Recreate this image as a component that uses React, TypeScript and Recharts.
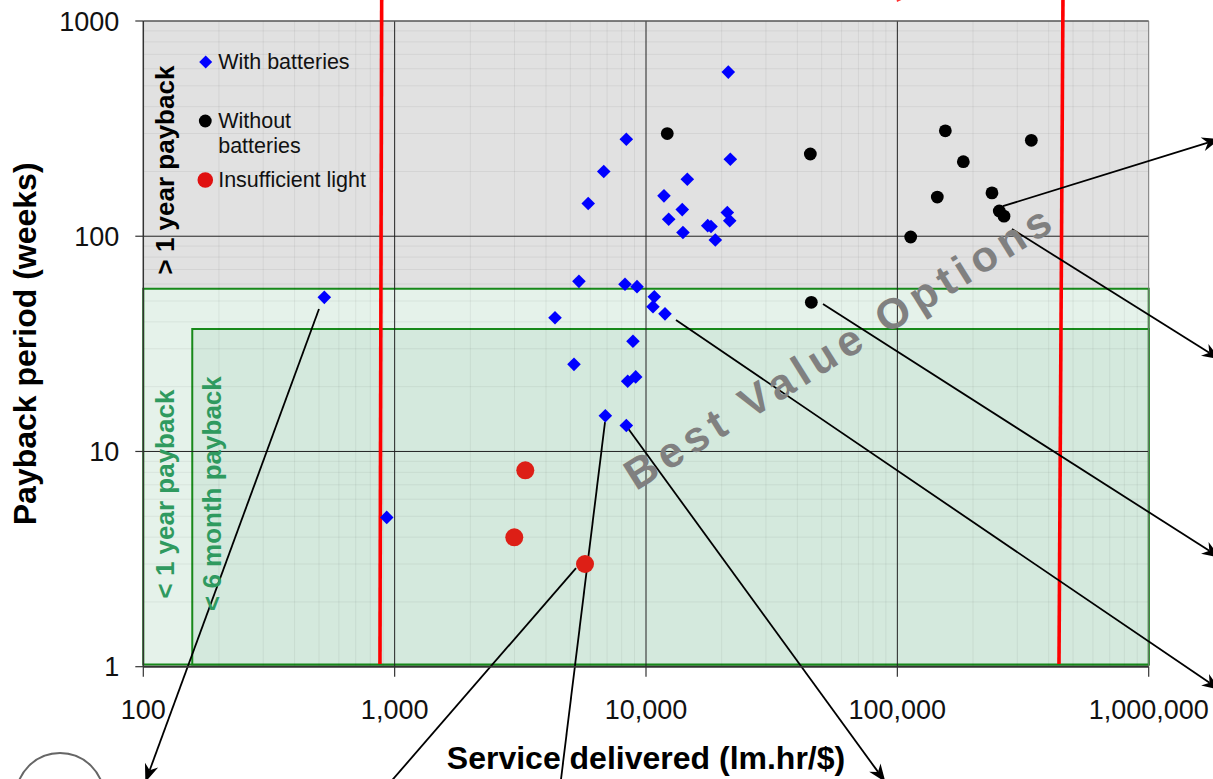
import React from 'react';
import {
  ScatterChart,
  Scatter,
  XAxis,
  YAxis,
  ReferenceArea,
  ReferenceLine,
  ReferenceDot,
  Label,
} from 'recharts';

// ---------- data ----------
const xTicks = [100, 1000, 10000, 100000, 1000000];
const yTicks = [1, 10, 100, 1000];

const withBatteries = [
  { x: 525, y: 52.0 }, { x: 930, y: 4.94 }, { x: 21250, y: 579 }, { x: 8350, y: 282 },
  { x: 6790, y: 200 }, { x: 5890, y: 142 }, { x: 21650, y: 228 }, { x: 14600, y: 184 },
  { x: 11790, y: 154 }, { x: 13940, y: 133 }, { x: 12310, y: 120 }, { x: 14030, y: 104 },
  { x: 21060, y: 129 }, { x: 21530, y: 118 }, { x: 17600, y: 112 }, { x: 18140, y: 111 },
  { x: 18870, y: 96 }, { x: 5410, y: 61.7 }, { x: 8250, y: 59.8 }, { x: 9210, y: 58.3 },
  { x: 10790, y: 52.3 }, { x: 10660, y: 47.0 }, { x: 11900, y: 43.6 }, { x: 4345, y: 41.8 },
  { x: 8875, y: 32.5 }, { x: 5170, y: 25.4 }, { x: 8455, y: 21.2 }, { x: 9100, y: 22.2 },
  { x: 6890, y: 14.65 }, { x: 8350, y: 13.2 },
];

const withoutBatteries = [
  { x: 12150, y: 300 }, { x: 45060, y: 241 }, { x: 155200, y: 309 }, { x: 341200, y: 279 },
  { x: 183000, y: 222 }, { x: 144200, y: 152 }, { x: 237900, y: 159 }, { x: 254400, y: 131 },
  { x: 265600, y: 124 }, { x: 113000, y: 99.2 }, { x: 45470, y: 49.3 },
];

const insufficientLight = [
  { x: 5720, y: 3.0 }, { x: 3310, y: 8.17 }, { x: 2992, y: 3.99 },
];

const legendItems = ['With batteries', 'Without batteries', 'Insufficient light'];
const legendAnchor = { x: 177.1, y: 645 };

// payback zones (data units)
const oneYearZone = { x1: 100, x2: 1000000, y1: 1.025, y2: 57 };
const sixMonthZone = { x1: 156.6, x2: 1000000, y1: 1.025, y2: 37.1 };

// red threshold lines (data units, top / bottom)
const thresholdLines = [
  { xTop: 888, yTop: 1300, xBottom: 874, yBottom: 1.03 },
  { xTop: 456000, yTop: 1300, xBottom: 439600, yBottom: 1.03 },
];

// annotation call-out lines (data units)
const callouts = [
  { x1: 263000, y1: 138, x2: 1921000, y2: 283.2, head: true },
  { x1: 285800, y1: 108, x2: 1921000, y2: 26.76, head: true },
  { x1: 50600, y1: 48.4, x2: 1921000, y2: 3.213, head: true },
  { x1: 13160, y1: 40.8, x2: 1921000, y2: 0.78, head: true },
  { x1: 8404, y1: 12.98, x2: 89660, y2: 0.291, head: true },
  { x1: 6869, y1: 13.7, x2: 4560, y2: 0.2818, head: false },
  { x1: 5268, y1: 2.872, x2: 939.9, y2: 0.2818, head: false },
  { x1: 500, y1: 45.9, x2: 101.9, y2: 0.291, head: true },
];

// region labels (data units of anchor)
const zoneLabels = [
  { text: '> 1 year payback', x: 132.5, y: 203, color: '#000000' },
  { text: '< 1 year payback', x: 132.5, y: 6.34, color: '#2f9a5f' },
  { text: '< 6 month payback', x: 203.8, y: 6.37, color: '#2f9a5f' },
];
const bestValue = { text: 'Best Value Options', x: 59140, y: 30.9 };

const minorX: number[] = [];
[100, 1000, 10000, 100000].forEach((d) => {
  for (let m = 2; m <= 9; m++) minorX.push(m * d);
});
const minorY: number[] = [];
[1, 10, 100].forEach((d) => {
  for (let m = 2; m <= 9; m++) minorY.push(m * d);
});
const majorX = [1000, 10000, 100000];
const majorY = [10, 100];

// ---------- shapes ----------
const FONT = '"Liberation Sans", Arial, Helvetica, sans-serif';

const DiamondShape = (p: any) => {
  const { cx, cy } = p;
  if (cx == null || cy == null) return null;
  const h = 6.8;
  return (
    <polygon
      points={`${cx},${cy - h} ${cx + h},${cy} ${cx},${cy + h} ${cx - h},${cy}`}
      fill="#0000ff"
    />
  );
};
const BlackDot = (p: any) =>
  p.cx == null ? null : <circle cx={p.cx} cy={p.cy} r={6.4} fill="#000000" />;
const RedDot = (p: any) =>
  p.cx == null ? null : <circle cx={p.cx} cy={p.cy} r={9} fill="#dd1f16" />;

const arrowShape = (head: boolean) => (p: any) => {
  const { x1, y1, x2, y2 } = p;
  if ([x1, y1, x2, y2].some((v) => v == null || isNaN(v))) return null;
  const ang = Math.atan2(y2 - y1, x2 - x1);
  const L = 18;
  const W = 7;
  const c = Math.cos(ang);
  const s = Math.sin(ang);
  const bx = x2 - L * c;
  const by = y2 - L * s;
  const nx = x2 - L * 0.7 * c;
  const ny = y2 - L * 0.7 * s;
  const px = -s * W;
  const py = c * W;
  return (
    <g>
      <line
        x1={x1}
        y1={y1}
        x2={head ? nx : x2}
        y2={head ? ny : y2}
        stroke="#000"
        strokeWidth={1.8}
      />
      {head && (
        <polygon
          points={`${x2},${y2} ${bx + px},${by + py} ${nx},${ny} ${bx - px},${by - py}`}
          fill="#000"
        />
      )}
    </g>
  );
};

const thresholdShape = (p: any) => {
  const { x1, y1, x2, y2 } = p;
  if ([x1, y1, x2, y2].some((v) => v == null || isNaN(v))) return null;
  return <line x1={x1} y1={y1} x2={x2} y2={y2} stroke="#ff0000" strokeWidth={3.6} />;
};

const rotatedText = (text: string, color: string) => (p: any) => {
  const { cx, cy } = p;
  if (cx == null) return null;
  return (
    <text
      x={cx}
      y={cy}
      transform={`rotate(-90 ${cx} ${cy})`}
      textAnchor="middle"
      fontFamily={FONT}
      fontWeight="bold"
      fontSize={26}
      fill={color}
    >
      {text}
    </text>
  );
};

const bestValueShape = (p: any) => {
  const { cx, cy } = p;
  if (cx == null) return null;
  return (
    <text
      x={cx}
      y={cy}
      dy="0.35em"
      transform={`rotate(-32 ${cx} ${cy})`}
      textAnchor="middle"
      fontFamily={FONT}
      fontWeight="bold"
      fontSize={43}
      letterSpacing={6}
      fill="#808080"
    >
      {bestValue.text}
    </text>
  );
};

const legendShape = (p: any) => {
  const { cx, cy } = p;
  if (cx == null) return null;
  const tx = cx + 12.5;
  return (
    <g fontFamily={FONT} fontSize={21.5} fill="#111">
      <polygon
        points={`${cx},${cy - 6.5} ${cx + 6.5},${cy} ${cx},${cy + 6.5} ${cx - 6.5},${cy}`}
        fill="#0000ff"
      />
      <text x={tx} y={cy + 7}>{legendItems[0]}</text>
      <circle cx={cx - 0.4} cy={cy + 59} r={6.4} fill="#000" />
      <text x={tx} y={cy + 66}>Without</text>
      <text x={tx} y={cy + 90.7}>batteries</text>
      <circle cx={cx - 0.4} cy={cy + 118} r={7.8} fill="#e01010" />
      <text x={tx} y={cy + 125}>{legendItems[2]}</text>
    </g>
  );
};

const redTipShape = (p: any) => {
  const { cx, cy } = p;
  if (cx == null) return null;
  return <polygon points={`${cx - 7},${cy - 6} ${cx + 7},${cy - 6} ${cx - 6},${cy}`} fill="#ff3030" />;
};

const XTitle = (props: any) => {
  const vb = props.viewBox || {};
  return (
    <text
      x={vb.x + vb.width / 2}
      y={vb.y + 102.6}
      textAnchor="middle"
      fontFamily={FONT}
      fontWeight="bold"
      fontSize={32}
      fill="#000"
    >
      Service delivered (lm.hr/$)
    </text>
  );
};

const YTitle = (props: any) => {
  const vb = props.viewBox || {};
  const cx = 36;
  const cy = vb.y + vb.height / 2;
  return (
    <text
      x={cx}
      y={cy}
      transform={`rotate(-90 ${cx} ${cy})`}
      textAnchor="middle"
      fontFamily={FONT}
      fontWeight="bold"
      fontSize={32}
      fill="#000"
    >
      Payback period (weeks)
    </text>
  );
};

const fmtX = (v: number) => v.toLocaleString('en-US');
const fmtY = (v: number) => String(v);

export default function App() {
  return (
    <div style={{ position: 'absolute', left: 0, top: 0, width: 1213, height: 779, background: '#ffffff' }}>
      <ScatterChart
        width={1213}
        height={779}
        margin={{ top: 21, right: 64.3, bottom: 0, left: 0 }}
        style={{ fontFamily: FONT }}
      >
        <XAxis
          dataKey="x"
          type="number"
          scale="log"
          domain={[100, 1000000]}
          ticks={xTicks}
          allowDataOverflow
          height={112.3}
          tickSize={10}
          tickMargin={23}
          tickFormatter={fmtX}
          tick={{ fontSize: 27, fill: '#111', fontFamily: FONT }}
          axisLine={{ stroke: '#333', strokeWidth: 2 }}
          tickLine={{ stroke: '#333', strokeWidth: 1.2 }}
          label={<Label content={XTitle} />}
        />
        <YAxis
          dataKey="y"
          type="number"
          scale="log"
          domain={[1, 1000]}
          ticks={yTicks}
          allowDataOverflow
          width={143.3}
          tickSize={8}
          tickMargin={16}
          tickFormatter={fmtY}
          tick={{ fontSize: 27, fill: '#111', fontFamily: FONT }}
          axisLine={{ stroke: '#333', strokeWidth: 1.5 }}
          tickLine={{ stroke: '#333', strokeWidth: 1.2 }}
          label={<Label content={YTitle} />}
        />

        {/* plot background */}
        <ReferenceArea x1={100} x2={1000000} y1={1} y2={1000} fill="#e1e1e1" fillOpacity={1} stroke="none" />
        <ReferenceArea
          x1={oneYearZone.x1}
          x2={oneYearZone.x2}
          y1={oneYearZone.y1}
          y2={oneYearZone.y2}
          fill="#e5f2ea"
          fillOpacity={1}
          stroke="#17891a"
          strokeWidth={2}
        />
        <ReferenceArea
          x1={sixMonthZone.x1}
          x2={sixMonthZone.x2}
          y1={sixMonthZone.y1}
          y2={sixMonthZone.y2}
          fill="#d4e9dd"
          fillOpacity={1}
          stroke="#17891a"
          strokeWidth={2}
        />

        {minorX.map((v) => (
          <ReferenceLine key={'mx' + v} x={v} stroke="#000" strokeOpacity={0.06} strokeWidth={1} />
        ))}
        {minorY.map((v) => (
          <ReferenceLine key={'my' + v} y={v} stroke="#000" strokeOpacity={0.06} strokeWidth={1} />
        ))}
        {majorX.map((v) => (
          <ReferenceLine key={'Mx' + v} x={v} stroke="#222" strokeWidth={1} />
        ))}
        {majorY.map((v) => (
          <ReferenceLine key={'My' + v} y={v} stroke="#222" strokeWidth={1} />
        ))}
        <ReferenceLine y={1000} stroke="#555" strokeWidth={1.5} />
        <ReferenceLine x={1000000} stroke="#777" strokeWidth={1} />

        {thresholdLines.map((t, i) => (
          <ReferenceLine
            key={'t' + i}
            ifOverflow="visible"
            segment={[
              { x: t.xTop, y: t.yTop },
              { x: t.xBottom, y: t.yBottom },
            ]}
            shape={thresholdShape}
          />
        ))}

        <Scatter name="With batteries" data={withBatteries} shape={DiamondShape} isAnimationActive={false} />
        <Scatter name="Without batteries" data={withoutBatteries} shape={BlackDot} isAnimationActive={false} />
        <Scatter name="Insufficient light" data={insufficientLight} shape={RedDot} isAnimationActive={false} />

        {callouts.map((c, i) => (
          <ReferenceLine
            key={'c' + i}
            ifOverflow="visible"
            segment={[
              { x: c.x1, y: c.y1 },
              { x: c.x2, y: c.y2 },
            ]}
            shape={arrowShape(c.head)}
          />
        ))}

        {zoneLabels.map((z, i) => (
          <ReferenceDot key={'z' + i} x={z.x} y={z.y} r={0} ifOverflow="visible" shape={rotatedText(z.text, z.color)} />
        ))}
        <ReferenceDot x={bestValue.x} y={bestValue.y} r={0} ifOverflow="visible" shape={bestValueShape} />
        <ReferenceDot x={legendAnchor.x} y={legendAnchor.y} r={0} ifOverflow="visible" shape={legendShape} />
        <ReferenceDot x={105300} y={1225} r={0} ifOverflow="visible" shape={redTipShape} />

        {/* cut-off picture outline at bottom-left */}
        <circle cx={60} cy={797} r={44} fill="none" stroke="#666" strokeWidth={2} />
      </ScatterChart>
    </div>
  );
}
